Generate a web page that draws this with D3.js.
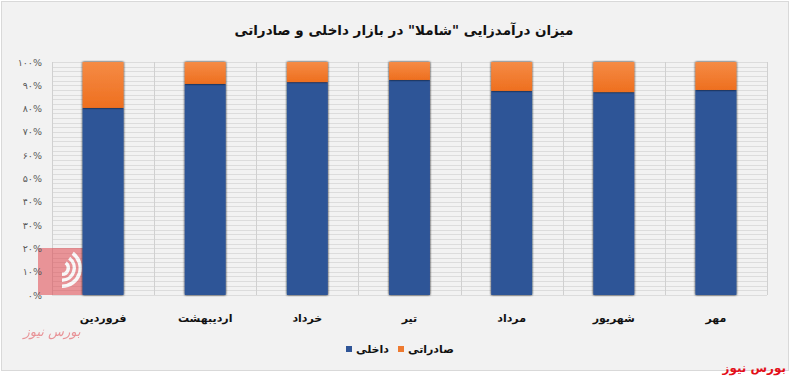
<!DOCTYPE html>
<html>
<head>
<meta charset="utf-8">
<script src="https://cdn.jsdelivr.net/npm/d3@7"></script>
<style>
  html, body { margin: 0; padding: 0; background: #ffffff; }
  svg { display: block; font-family: "DejaVu Sans", sans-serif; }
</style>
</head>
<body>
<svg id="chart" width="791" height="378"></svg>
<script>
// months, left to right
const months = ["فروردین", "اردیبهشت", "خرداد", "تیر", "مرداد", "شهریور", "مهر"];
// share of domestic sales (%)
const domestic = [80.3, 90.6, 91.4, 92.3, 87.6, 87.1, 88.0];
// share of exports (%)
const exports = domestic.map((d) => 100 - d);
const yTicks = [0, 10, 20, 30, 40, 50, 60, 70, 80, 90, 100];
const seriesNames = ["داخلی", "صادراتی"];

const svg = d3.select("#chart");
const width = 791;
const height = 378;
const margin = { top: 62, right: 24, bottom: 83, left: 52 };

const persianDigits = (s) => String(s).replace(/\d/g, (c) => "۰۱۲۳۴۵۶۷۸۹"[+c]);

// chart frame
svg.append("rect")
  .attr("x", 1.5).attr("y", 1.5)
  .attr("width", width - 4).attr("height", height - 9)
  .attr("fill", "#f2f2f2")
  .attr("stroke", "#d9d9d9");

const defs = svg.append("defs");
const orangeGrad = defs.append("linearGradient")
  .attr("id", "orangeGrad").attr("x1", 0).attr("y1", 0).attr("x2", 0).attr("y2", 1);
orangeGrad.append("stop").attr("offset", "0%").attr("stop-color", "#f58b45");
orangeGrad.append("stop").attr("offset", "100%").attr("stop-color", "#ee6f1f");
const shadow = defs.append("filter").attr("id", "shadow").attr("x", -0.2).attr("width", 1.4);
shadow.append("feGaussianBlur").attr("in", "SourceAlpha").attr("stdDeviation", 1.2);
shadow.append("feOffset").attr("dx", 0).attr("dy", 0).attr("result", "blur");
const merge = shadow.append("feMerge");
merge.append("feMergeNode").attr("in", "blur");
merge.append("feMergeNode").attr("in", "SourceGraphic");

const x = d3.scaleBand()
  .domain(months)
  .range([margin.left, width - margin.right])
  .paddingInner(0.6)
  .paddingOuter(0.3);

const y = d3.scaleLinear()
  .domain([0, 100])
  .range([height - margin.bottom, margin.top]);

// minor horizontal grid every 2%
svg.append("g")
  .selectAll("line")
  .data(d3.range(0, 101, 2))
  .join("line")
  .attr("x1", margin.left).attr("x2", width - margin.right)
  .attr("y1", (d) => Math.round(y(d)) + 0.5)
  .attr("y2", (d) => Math.round(y(d)) + 0.5)
  .attr("stroke", "#dcdcdc")
  .attr("stroke-width", 1);

// vertical grid at category boundaries
const step = x.step();
const bounds = d3.range(months.length + 1).map((i) => x.range()[0] + i * step);
svg.append("g")
  .selectAll("line")
  .data(bounds)
  .join("line")
  .attr("x1", (d) => Math.round(d) + 0.5).attr("x2", (d) => Math.round(d) + 0.5)
  .attr("y1", y(100)).attr("y2", y(0))
  .attr("stroke", "#d0d0d0");

// watermark logo (approximation)
const logo = svg.append("g").attr("opacity", 0.55);
logo.append("rect")
  .attr("x", 38).attr("y", 248).attr("width", 45).attr("height", 47)
  .attr("fill", "#e0464e");
[20, 14, 8].forEach((r) => {
  logo.append("path")
    .attr("d", d3.arc()({ innerRadius: r - 3.5, outerRadius: r, startAngle: Math.PI * 0.2, endAngle: Math.PI * 1.0 }))
    .attr("transform", "translate(62,268)")
    .attr("fill", "#ffffff");
});
logo.append("text")
  .attr("x", 52).attr("y", 336)
  .attr("text-anchor", "middle")
  .attr("font-size", 13)
  .attr("font-style", "italic")
  .attr("fill", "#e0464e")
  .text("بورس نیوز");

// stacked bars
const barG = svg.append("g");
months.forEach((m, i) => {
  barG.append("rect")
    .attr("x", x(m)).attr("width", x.bandwidth())
    .attr("y", y(domestic[i])).attr("height", y(0) - y(domestic[i]))
    .attr("fill", "#2f5597")
    .attr("filter", "url(#shadow)");
  barG.append("rect")
    .attr("x", x(m)).attr("width", x.bandwidth())
    .attr("y", y(100)).attr("height", y(domestic[i]) - y(domestic[i] + exports[i]))
    .attr("fill", "url(#orangeGrad)")
    .attr("filter", "url(#shadow)");
});

// y axis labels
const yAxis = svg.append("g")
  .attr("transform", `translate(${margin.left},0)`)
  .call(d3.axisLeft(y).tickValues(yTicks).tickSize(0).tickPadding(10)
    .tickFormat((d) => persianDigits(d) + "%"));
yAxis.select(".domain").remove();
yAxis.selectAll("text")
  .attr("direction", "ltr")
  .attr("font-family", "DejaVu Sans, sans-serif")
  .attr("font-size", 9.5)
  .attr("fill", "#595959");

// x axis labels
const xAxis = svg.append("g")
  .attr("transform", `translate(0,${y(0)})`)
  .call(d3.axisBottom(x).tickSize(0).tickPadding(19));
xAxis.select(".domain").remove();
xAxis.selectAll("text")
  .attr("font-family", "DejaVu Sans, sans-serif")
  .attr("font-size", 11)
  .attr("font-weight", "bold")
  .attr("fill", "#111");

// title
svg.append("text")
  .attr("x", 404).attr("y", 35)
  .attr("text-anchor", "middle")
  .attr("font-size", 13.5)
  .attr("font-weight", "bold")
  .attr("fill", "#111")
  .text("میزان درآمدزایی \"شاملا\" در بازار داخلی و صادراتی");

// legend
const legendItems = [
  { name: seriesNames[0], color: "#2f5597", x: 346 },
  { name: seriesNames[1], color: "#ee7a30", x: 398 }
];
const legend = svg.append("g");
legendItems.forEach((d) => {
  legend.append("rect")
    .attr("x", d.x).attr("y", 346).attr("width", 6).attr("height", 6)
    .attr("fill", d.color);
  legend.append("text")
    .attr("x", d.x + 10).attr("y", 353)
    .attr("direction", "ltr")
    .attr("font-size", 11)
    .attr("font-weight", "bold")
    .attr("fill", "#111")
    .text(d.name);
});

// source tag
svg.append("text")
  .attr("x", 786).attr("y", 372)
  .attr("text-anchor", "end")
  .attr("font-size", 12)
  .attr("font-weight", "bold")
  .attr("fill", "#e3101a")
  .text("بورس نیوز");
</script>
</body>
</html>
